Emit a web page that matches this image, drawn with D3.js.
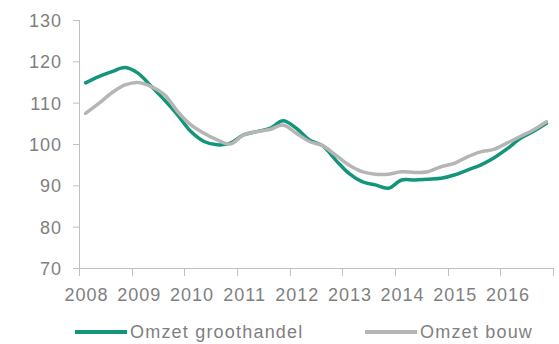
<!DOCTYPE html>
<html>
<head>
<meta charset="utf-8">
<script src="https://cdn.jsdelivr.net/npm/d3@7"></script>
<style>
	body { margin: 0; background: #fff; }
	svg { display: block; font-family: "Liberation Sans", Arial, sans-serif; }
	.axis text { fill: #7f7f7f; font-size: 18px; letter-spacing: 1px; }
	.legend text { fill: #7f7f7f; font-size: 18px; letter-spacing: 1.2px; }
</style>
</head>
<body>
<svg id="chart" width="559" height="344"></svg>
<script>
// quarterly values 2008 Q1 .. 2016 Q4
const years = ['2008', '2009', '2010', '2011', '2012', '2013', '2014', '2015', '2016'];
const yTicks = [70, 80, 90, 100, 110, 120, 130];
const groothandel = [
	114.8, 116.3, 117.5, 118.5, 117.1, 113.9, 110.6, 107.0,
	103.0, 100.6, 99.8, 100.2, 102.2, 103.0, 103.8, 105.6,
	103.8, 101.0, 99.6, 96.1, 92.9, 90.9, 90.1, 89.3,
	91.3, 91.3, 91.5, 91.7, 92.5, 93.7, 94.9, 96.6,
	98.8, 101.3, 103.0, 105.0
];
const bouw = [
	107.4, 109.8, 112.4, 114.3, 114.9, 113.9, 111.9, 107.8,
	104.6, 102.6, 101.0, 100.0, 102.2, 103.0, 103.5, 104.6,
	102.6, 100.6, 99.6, 97.3, 94.9, 93.3, 92.7, 92.7,
	93.3, 93.1, 93.3, 94.5, 95.3, 96.9, 98.1, 98.7,
	100.2, 101.8, 103.4, 105.4
];
const seriesNames = ['Omzet groothandel', 'Omzet bouw'];
const seriesColors = ['#13957c', '#b5b5b5'];

const Chart = {
	plot: { left: 79, right: 553, top: 20, bottom: 268 },
	axisColor: '#c0c0c0',

	draw: function() {
		const self = this;
		var p = self.plot;
		var svg = d3.select('#chart');

		var x = d3.scaleBand()
			.domain(d3.range(groothandel.length))
			.range([p.left, p.right]);
		var y = d3.scaleLinear()
			.domain([70, 130])
			.range([p.bottom, p.top]);

		// y axis
		var yAxis = svg.append('g')
			.attr('class', 'axis')
			.attr('transform', 'translate(' + p.left + ',0)')
			.call(d3.axisLeft(y).tickValues(yTicks).tickSize(6).tickPadding(11));
		yAxis.selectAll('line, path').attr('stroke', self.axisColor);
		yAxis.select('.domain').attr('d', 'M0.5,' + p.top + 'V' + p.bottom);
		yAxis.selectAll('text').attr('dy', '0.36em');

		// x axis: ticks between year groups, labels at first quarter of each year
		var xg = svg.append('g')
			.attr('class', 'axis')
			.attr('transform', 'translate(0,' + p.bottom + ')');
		xg.append('line')
			.attr('x1', p.left).attr('x2', p.right)
			.attr('y1', 0.5).attr('y2', 0.5)
			.attr('stroke', self.axisColor);
		var tickPos = d3.range(0, groothandel.length + 1, 4).map(function(i) {
			return i < groothandel.length ? x(i) : p.right;
		});
		xg.selectAll('.xtick')
			.data(tickPos)
			.enter().append('line')
			.attr('class', 'xtick')
			.attr('x1', function(d) { return Math.round(d) + 0.5; })
			.attr('x2', function(d) { return Math.round(d) + 0.5; })
			.attr('y1', 0).attr('y2', 8)
			.attr('stroke', self.axisColor);
		xg.selectAll('.xlabel')
			.data(years)
			.enter().append('text')
			.attr('class', 'xlabel')
			.attr('x', function(d, i) { return x(i * 4) + x.bandwidth() / 2 + 1; })
			.attr('y', 33)
			.attr('text-anchor', 'middle')
			.text(function(d) { return d; });

		// lines
		var line = d3.line()
			.x(function(d, i) { return x(i) + x.bandwidth() / 2; })
			.y(function(d) { return y(d); })
			.curve(d3.curveCatmullRom.alpha(0.5));

		[groothandel, bouw].forEach(function(values, k) {
			svg.append('path')
				.datum(values)
				.attr('fill', 'none')
				.attr('stroke', seriesColors[k])
				.attr('stroke-width', 3.5)
				.attr('stroke-linejoin', 'round')
				.attr('stroke-linecap', 'round')
				.attr('d', line);
		});

		// legend
		var legend = svg.append('g').attr('class', 'legend');
		var legendX = [75, 365];
		seriesNames.forEach(function(name, k) {
			legend.append('line')
				.attr('x1', legendX[k]).attr('x2', legendX[k] + 52)
				.attr('y1', 332).attr('y2', 332)
				.attr('stroke', seriesColors[k])
				.attr('stroke-width', 4);
			legend.append('text')
				.attr('x', legendX[k] + 55)
				.attr('y', 338)
				.text(name);
		});
	}
};

Chart.draw();
</script>
</body>
</html>
